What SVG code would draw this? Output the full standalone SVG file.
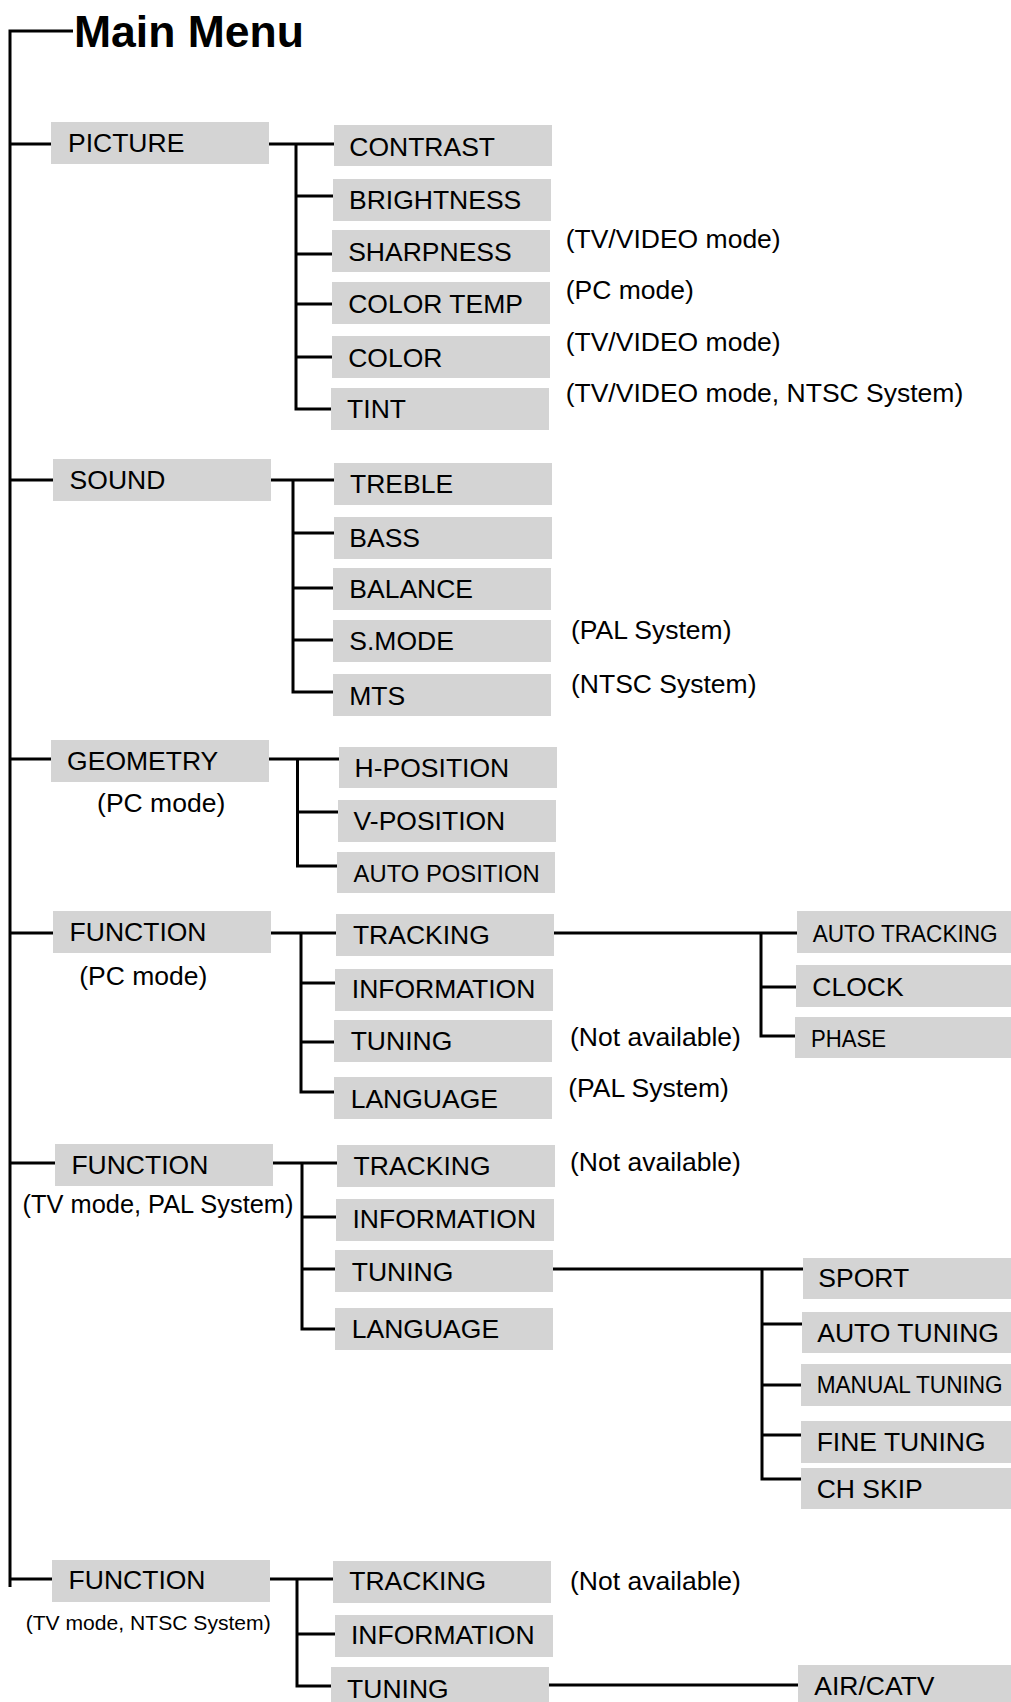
<svg xmlns="http://www.w3.org/2000/svg" width="1011" height="1702" viewBox="0 0 1011 1702">
<style>
rect.b{fill:#d4d4d4}
text{font-family:"Liberation Sans",Arial,sans-serif;fill:#000}
.l{font-size:26.5px}
.s{font-size:24px}
.a{font-size:26.5px}
.t{font-size:45px;font-weight:bold}
.c path{fill:none;stroke:#000;stroke-width:3}
</style>
<rect width="1011" height="1702" fill="#fff"/>
<g id="title"><text class="t" x="74" y="46.7" textLength="230" lengthAdjust="spacingAndGlyphs">Main Menu</text></g>

<g class="c" id="connectors">
<path d="M73,31 H10 V1587"/>
<path d="M10,144 H51 M10,480 H53 M10,759 H51 M10,933 H53 M10,1163 H55 M10,1579 H52"/>
<path d="M269,144 H334 M296,144 V409 H331 M296,196 H333 M296,254 H332 M296,304 H332 M296,357 H332"/>
<path d="M271,480 H334 M293,480 V692 H333 M293,533 H334 M293,588 H333 M293,640 H333"/>
<path d="M269,759 H339 M297.5,759 V866 H337 M297.5,812 H338"/>
<path d="M271,933 H336 M301,933 V1092 H334 M301,983 H335 M301,1042 H334"/>
<path d="M554,933 H797 M761,933 V1036 H795 M761,987 H796"/>
<path d="M273,1163 H337 M302,1163 V1329 H335 M302,1217 H336 M302,1269 H335"/>
<path d="M553,1269 H803 M762,1269 V1479 H801 M762,1324 H802 M762,1385 H801 M762,1435 H801"/>
<path d="M270,1579 H333 M297,1579 V1686 H331 M297,1634 H335"/>
<path d="M549,1685 H798"/>
</g>

<g id="picture"><rect class="b" x="51" y="122" width="218" height="42"/><text class="l" x="68" y="152.3">PICTURE</text></g>
<g id="contrast"><rect class="b" x="334" y="125" width="218" height="41"/><text class="l" x="349.3" y="155.7">CONTRAST</text></g>
<g id="brightness"><rect class="b" x="333" y="179" width="218" height="42"/><text class="l" x="349" y="209">BRIGHTNESS</text></g>
<g id="sharpness"><rect class="b" x="332" y="230" width="218" height="42"/><text class="l" x="348.2" y="260.7">SHARPNESS</text></g>
<g id="colortemp"><rect class="b" x="332" y="282" width="218" height="42"/><text class="l" x="348.2" y="313.3">COLOR TEMP</text></g>
<g id="color"><rect class="b" x="332" y="336" width="218" height="42"/><text class="l" x="348.2" y="366.7">COLOR</text></g>
<g id="tint"><rect class="b" x="331" y="388" width="218" height="42"/><text class="l" x="347.1" y="417.7">TINT</text></g>
<g id="notes-picture">
<text class="a" x="565.7" y="248">(TV/VIDEO mode)</text>
<text class="a" x="565.7" y="299">(PC mode)</text>
<text class="a" x="565.7" y="351">(TV/VIDEO mode)</text>
<text class="a" x="565.7" y="402">(TV/VIDEO mode, NTSC System)</text>
</g>

<g id="sound"><rect class="b" x="53" y="459" width="218" height="42"/><text class="l" x="69.6" y="489">SOUND</text></g>
<g id="treble"><rect class="b" x="334" y="463" width="218" height="42"/><text class="l" x="350" y="492.7">TREBLE</text></g>
<g id="bass"><rect class="b" x="334" y="517" width="218" height="42"/><text class="l" x="349.3" y="546.7">BASS</text></g>
<g id="balance"><rect class="b" x="333" y="568" width="218" height="42"/><text class="l" x="349.3" y="598.3">BALANCE</text></g>
<g id="smode"><rect class="b" x="333" y="620" width="218" height="42"/><text class="l" x="349.3" y="650">S.MODE</text></g>
<g id="mts"><rect class="b" x="333" y="674" width="218" height="42"/><text class="l" x="349.3" y="705">MTS</text></g>
<g id="notes-sound">
<text class="a" x="571" y="639">(PAL System)</text>
<text class="a" x="571" y="693">(NTSC System)</text>
</g>

<g id="geometry"><rect class="b" x="51" y="740" width="218" height="42"/><text class="l" x="67.1" y="770">GEOMETRY</text><text class="a" x="97.1" y="812">(PC mode)</text></g>
<g id="hposition"><rect class="b" x="339" y="747" width="218" height="41"/><text class="l" x="354.6" y="776.7">H-POSITION</text></g>
<g id="vposition"><rect class="b" x="338" y="800" width="218" height="42"/><text class="l" x="353.6" y="830">V-POSITION</text></g>
<g id="autoposition"><rect class="b" x="337" y="852" width="218" height="41"/><text class="s" x="353.6" y="881.7" textLength="186" lengthAdjust="spacingAndGlyphs">AUTO POSITION</text></g>

<g id="function-pc"><rect class="b" x="53" y="911" width="218" height="42"/><text class="l" x="69.6" y="940.7">FUNCTION</text><text class="a" x="79.3" y="985">(PC mode)</text></g>
<g id="tracking-pc"><rect class="b" x="336" y="914" width="218" height="42"/><text class="l" x="352.9" y="944">TRACKING</text></g>
<g id="information-pc"><rect class="b" x="335" y="969" width="218" height="42"/><text class="l" x="351.8" y="998.3">INFORMATION</text></g>
<g id="tuning-pc"><rect class="b" x="334" y="1020" width="218" height="42"/><text class="l" x="350.7" y="1050">TUNING</text></g>
<g id="language-pc"><rect class="b" x="334" y="1077" width="218" height="42"/><text class="l" x="350.7" y="1107.7">LANGUAGE</text></g>
<g id="notes-pc">
<text class="a" x="570" y="1046">(Not available)</text>
<text class="a" x="568.3" y="1097">(PAL System)</text>
</g>
<g id="autotracking"><rect class="b" x="797" y="911" width="214" height="42"/><text class="s" x="812.7" y="941.7" textLength="185" lengthAdjust="spacingAndGlyphs">AUTO TRACKING</text></g>
<g id="clock"><rect class="b" x="796" y="965" width="215" height="42"/><text class="l" x="812.3" y="995.7">CLOCK</text></g>
<g id="phase"><rect class="b" x="795" y="1017" width="216" height="41"/><text class="s" x="811" y="1046.7" textLength="75" lengthAdjust="spacingAndGlyphs">PHASE</text></g>

<g id="function-pal"><rect class="b" x="55" y="1144" width="218" height="42"/><text class="l" x="71.4" y="1174">FUNCTION</text><text x="22.5" y="1212.7" style="font-size:25px" textLength="271" lengthAdjust="spacingAndGlyphs">(TV mode, PAL System)</text></g>
<g id="tracking-pal"><rect class="b" x="337" y="1145" width="218" height="42"/><text class="l" x="353.6" y="1175">TRACKING</text></g>
<g id="information-pal"><rect class="b" x="336" y="1199" width="218" height="42"/><text class="l" x="352.5" y="1228.3">INFORMATION</text></g>
<g id="tuning-pal"><rect class="b" x="335" y="1250" width="218" height="42"/><text class="l" x="351.8" y="1280.7">TUNING</text></g>
<g id="language-pal"><rect class="b" x="335" y="1308" width="218" height="42"/><text class="l" x="351.8" y="1338">LANGUAGE</text></g>
<g id="notes-pal"><text class="a" x="570" y="1171">(Not available)</text></g>
<g id="sport"><rect class="b" x="803" y="1258" width="208" height="41"/><text class="l" x="818.3" y="1287.3">SPORT</text></g>
<g id="autotuning"><rect class="b" x="802" y="1312" width="209" height="41"/><text class="l" x="817.3" y="1342.3">AUTO TUNING</text></g>
<g id="manualtuning"><rect class="b" x="801" y="1364" width="210" height="42"/><text class="s" x="816.7" y="1393.3" textLength="186" lengthAdjust="spacingAndGlyphs">MANUAL TUNING</text></g>
<g id="finetuning"><rect class="b" x="801" y="1421" width="210" height="42"/><text class="l" x="816.7" y="1450.7">FINE TUNING</text></g>
<g id="chskip"><rect class="b" x="801" y="1468" width="210" height="41"/><text class="l" x="816.7" y="1497.7">CH SKIP</text></g>

<g id="function-ntsc"><rect class="b" x="52" y="1560" width="218" height="42"/><text class="l" x="68.6" y="1589.3">FUNCTION</text><text x="25.7" y="1630" style="font-size:21px" textLength="245" lengthAdjust="spacingAndGlyphs">(TV mode, NTSC System)</text></g>
<g id="tracking-ntsc"><rect class="b" x="333" y="1561" width="218" height="42"/><text class="l" x="349.3" y="1590">TRACKING</text></g>
<g id="information-ntsc"><rect class="b" x="335" y="1615" width="218" height="42"/><text class="l" x="351" y="1644.3">INFORMATION</text></g>
<g id="tuning-ntsc"><rect class="b" x="331" y="1667" width="218" height="42"/><text class="l" x="347.1" y="1698">TUNING</text></g>
<g id="notes-ntsc"><text class="a" x="570" y="1589.5">(Not available)</text></g>
<g id="aircatv"><rect class="b" x="798" y="1665" width="213" height="42"/><text class="l" x="814.3" y="1695">AIR/CATV</text></g>
</svg>
